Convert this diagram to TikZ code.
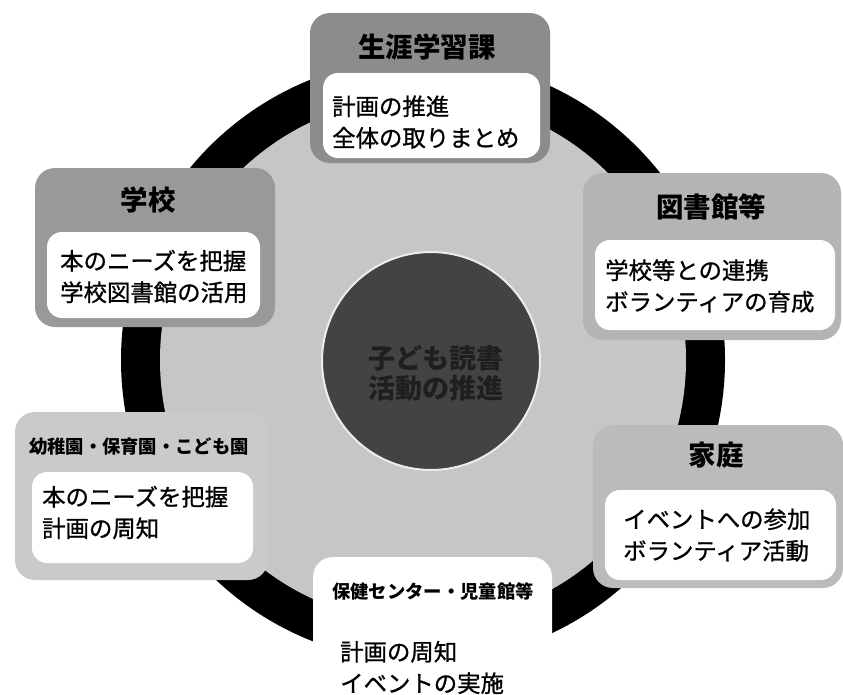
\documentclass[tikz,border=0pt]{standalone}
\usepackage{fontspec}
\newfontfamily\jp{Noto Sans CJK JP}
\newfontfamily\jpm[FakeBold=0.9]{Noto Sans CJK JP}
\definecolor{boxA}{HTML}{8C8C8C}
\definecolor{boxB}{HTML}{999999}
\definecolor{boxC}{HTML}{B4B4B4}
\definecolor{boxD}{HTML}{BBBBBB}
\definecolor{boxE}{HTML}{CACACA}
\definecolor{diskgray}{HTML}{C6C6C6}
\definecolor{coregray}{HTML}{434343}
\tikzset{
  outerbox/.style={rectangle, rounded corners=20pt, inner sep=0pt},
  innerbox/.style={rectangle, rounded corners=15pt, fill=white, inner sep=0pt},
  title/.style={font=\jp\bfseries\fontsize{27.5pt}{30pt}\selectfont, text=black, inner sep=0pt},
  smalltitle/.style={font=\jp\bfseries\fontsize{18.3pt}{20pt}\selectfont, text=black, inner sep=0pt},
  body/.style={font=\jpm\fontsize{23.4pt}{31.5pt}\selectfont, align=left, anchor=west, inner sep=0pt, text=black}
}
\begin{document}
\begin{tikzpicture}[x=1pt,y=-1pt]
\useasboundingbox (0,0) rectangle (843,694);
\fill[white] (0,0) rectangle (843,694);
\clip (0,0) rectangle (843,694);
% ring and disks
\node[circle, fill=black, minimum size=604pt, inner sep=0pt] (ring) at (423,360) {};
\node[circle, fill=diskgray, minimum size=526pt, inner sep=0pt] (disk) at (423,360) {};
\node[circle, fill=coregray, draw=white!85!gray, line width=2pt, minimum size=218pt, inner sep=0pt] (core) at (431,361) {};
\node[font=\jp\bfseries\fontsize{27pt}{30pt}\selectfont, text=black!88, align=center, inner sep=0pt] (coretext) at (436,373) {子ども読書\\活動の推進};
% 生涯学習課
\node[outerbox, fill=boxA, minimum width=240pt, minimum height=150pt] (b1) at (430,88) {};
\node[innerbox, minimum width=217pt, minimum height=85pt] (i1) at (431.5,115.5) {};
\node[title] (t1) at (427,47) {生涯学習課};
\node[body] (d1) at (332,122) {計画の推進\\全体の取りまとめ};
% 学校
\node[outerbox, fill=boxB, minimum width=240pt, minimum height=159pt] (b2) at (155,247.5) {};
\node[innerbox, minimum width=213pt, minimum height=86pt] (i2) at (153.5,275) {};
\node[title] (t2) at (148,200) {学校};
\node[body] (d2) at (60,276.5) {本のニーズを把握\\学校図書館の活用};
% 幼稚園・保育園・こども園
\node[outerbox, fill=boxE, minimum width=253pt, minimum height=168pt] (b3) at (141.5,496) {};
\node[innerbox, minimum width=221pt, minimum height=91pt] (i3) at (142.5,517.5) {};
\node[smalltitle] (t3) at (139,447) {幼稚園・保育園・こども園};
\node[body] (d3) at (42,512.5) {本のニーズを把握\\計画の周知};
% 図書館等
\node[outerbox, fill=boxC, minimum width=258pt, minimum height=167pt] (b4) at (712,256.5) {};
\node[innerbox, minimum width=240pt, minimum height=90pt] (i4) at (715,285) {};
\node[title] (t4) at (711,207) {図書館等};
\node[body] (d4) at (605,286) {学校等との連携\\ボランティアの育成};
% 家庭
\node[outerbox, fill=boxD, minimum width=250pt, minimum height=163pt] (b5) at (718,506.5) {};
\node[innerbox, minimum width=231pt, minimum height=90pt] (i5) at (720.5,535) {};
\node[title] (t5) at (716,455) {家庭};
\node[body] (d5) at (623,535) {イベントへの参加\\ボランティア活動};
% 保健センター・児童館等
\node[outerbox, fill=white, minimum width=239pt, minimum height=180pt] (b6) at (432.5,647) {};
\node[smalltitle] (t6) at (433,592) {保健センター・児童館等};
\node[body] (d6) at (340,667.5) {計画の周知\\イベントの実施};
\end{tikzpicture}
\end{document}
